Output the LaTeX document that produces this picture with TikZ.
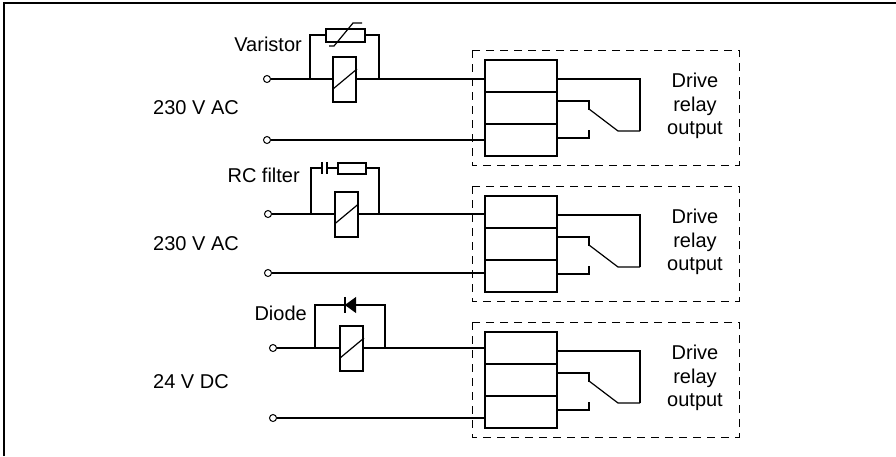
\documentclass[tikz,border=0pt]{standalone}
\usepackage{fontspec}
\setmainfont{Liberation Sans}
\usetikzlibrary{calc}
\begin{document}
\begin{tikzpicture}[x=1pt,y=-1pt,
  wire/.style={line width=2pt},
  thinwire/.style={line width=1.2pt},
  term/.style={circle,draw,line width=1pt,inner sep=0pt,minimum size=7pt,fill=white},
  coil/.style={draw,line width=2pt,minimum width=23pt,minimum height=45pt,inner sep=0pt},
  cell/.style={draw,line width=2pt,minimum width=72pt,minimum height=32pt,inner sep=0pt},
  part/.style={draw,line width=2pt,inner sep=0pt},
  hold/.style={inner sep=0pt},
  frame/.style={dash pattern=on 8pt off 6pt,line width=1pt},
  lbl/.style={inner sep=0pt,font=\fontsize{20pt}{23.5pt}\selectfont}
]
\useasboundingbox (0,0) rectangle (896,456);
% outer frame
\draw[line width=1.5pt] (4,456) -- (4,3) -- (896,3);

% ---------- right side: drive relay outputs ----------
\foreach \s/\T in {1/60,2/196,3/332} {
  \draw[frame] (472,{\T-10}) rectangle (739,{\T+105});
  \node[cell] (ct\s) at (521,{\T+16}) {};
  \node[cell] (cm\s) at (521,{\T+48}) {};
  \node[cell] (cb\s) at (521,{\T+80}) {};
  \draw[wire] ([yshift=-3pt]ct\s.east) -| ++(82,52) coordinate (sk\s);
  \draw[thinwire] (sk\s) -- ++(-22,0) -- ++(-29,-22);
  \draw[wire] ([yshift=7pt]cm\s.east) -- ++(31,0) -- ++(0,9);
  \draw[wire] ([yshift=2pt]cb\s.east) -- ++(31,0) -- ++(0,-8);
  \node[lbl,align=center] (dr\s) at (695,{\T+46}) {Drive\\relay\\output};
}

% ---------- section 1: varistor ----------
\node[lbl,anchor=base east] (l1) at (302,51) {Varistor};
\node[lbl] (s1) at (196,108) {230 V AC};
\node[term] (pa1) at (267,79) {};
\node[term] (pb1) at (267,140) {};
\node[coil] (c1) at (344.5,79) {};
\draw[thinwire] ($(c1.west)+(1,10)$) -- ($(c1.east)+(0,-10)$);
\draw[wire] (pa1) -- (c1) -- (c1 -| ct1.west);
\draw[wire] (pb1) -- (pb1 -| cb1.west);
\coordinate (jl1) at (310,79);
\coordinate (jr1) at (379,79);
\node[part,minimum width=39pt,minimum height=13pt] (v1) at (345.5,35) {};
\draw[thinwire] ($(v1)+(-16.5,11)$) -- ++(5,0) -- ++(19,-23) -- ++(9,0);
\draw[wire] (jl1) |- (v1.west);
\draw[wire] (v1.east) -| (jr1);

% ---------- section 2: RC filter ----------
\node[lbl,anchor=base east] (l2) at (300,182) {RC filter};
\node[lbl] (s2) at (196,244) {230 V AC};
\node[term] (pa2) at (268,214) {};
\node[term] (pb2) at (268,273) {};
\node[coil] (c2) at (346,214) {};
\draw[thinwire] ($(c2.west)+(1,10)$) -- ($(c2.east)+(0,-10)$);
\draw[wire] (pa2) -- (c2) -- (c2 -| ct2.west);
\draw[wire] (pb2) -- (pb2 -| cb2.west);
\coordinate (jl2) at (311,214);
\coordinate (jr2) at (379,214);
\node[hold,minimum width=5pt,minimum height=12pt] (k2) at (324.5,168) {};
\draw[wire] (k2.north west) -- (k2.south west) (k2.north east) -- (k2.south east);
\node[part,minimum width=28pt,minimum height=11pt] (r2) at (352,168) {};
\draw[wire] (jl2) |- (k2.west);
\draw[wire] (k2.east) -- (r2.west);
\draw[wire] (r2.east) -| (jr2);

% ---------- section 3: diode ----------
\node[lbl,anchor=base east] (l3) at (307,320) {Diode};
\node[lbl] (s3) at (191,382) {24 V DC};
\node[term] (pa3) at (273,348) {};
\node[term] (pb3) at (273,418) {};
\node[coil] (c3) at (351.5,348) {};
\draw[thinwire] ($(c3.west)+(1,10)$) -- ($(c3.east)+(0,-10)$);
\draw[wire] (pa3) -- (c3) -- (c3 -| ct3.west);
\draw[wire] (pb3) -- (pb3 -| cb3.west);
\coordinate (jl3) at (315,348);
\coordinate (jr3) at (385,348);
\node[hold,minimum width=11pt,minimum height=16pt] (dd3) at (350.5,305) {};
\fill (dd3.north east) -- (dd3.south east) -- (dd3.west) -- cycle;
\draw[wire] (dd3.north west) -- (dd3.south west);
\draw[wire] (jl3) |- (dd3.west);
\draw[wire] (dd3.east) -| (jr3);
\end{tikzpicture}
\end{document}
